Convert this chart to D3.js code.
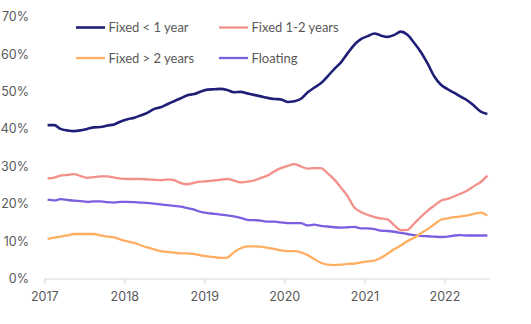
<!DOCTYPE html>
<html>
<head>
<meta charset="utf-8">
<script src="https://cdn.jsdelivr.net/npm/d3@7"></script>
<style>
  html, body { margin: 0; padding: 0; background: #fff; }
  svg { display: block; }
  .tick text { font-family: Inter, "Noto Sans", sans-serif; font-size: 12.5px; fill: #595959; }
  .legend text { font-family: Lato, "Noto Sans", sans-serif; font-size: 13px; fill: #595959; }
</style>
</head>
<body>
<div id="container"></div>
<script>
// chart size
let width = 531;
let height = 324;

// series, monthly Jan 2017 .. Jul 2022 (percent)
let seriesNames = ["Fixed < 1 year", "Fixed 1-2 years", "Fixed > 2 years", "Floating"];
let seriesColors = ["#1f1f78", "#f39089", "#ffae62", "#7b5fe0"];

let fixedUnder1 = [
  41.0, 41.0, 40.0, 39.6, 39.4, 39.6, 40.0, 40.4, 40.5, 40.9, 41.2, 42.0,
  42.6, 43.0, 43.6, 44.3, 45.3, 45.8, 46.6, 47.4, 48.2, 49.0, 49.3, 50.0,
  50.5, 50.6, 50.7, 50.4, 49.8, 49.9, 49.5, 49.1, 48.7, 48.3, 48.0, 47.9,
  47.2, 47.4, 48.0, 49.7, 51.0, 52.2, 54.0, 56.0, 57.8, 60.2, 62.5, 64.0,
  64.8, 65.5, 65.0, 64.6, 65.1, 66.0, 65.2, 63.0, 60.5, 57.5, 54.0, 51.8,
  50.6, 49.6, 48.6, 47.6, 46.2, 44.6, 44.0
];
let fixed1to2 = [
  26.8, 27.0, 27.5, 27.7, 27.9, 27.4, 26.9, 27.1, 27.3, 27.3, 27.0, 26.7,
  26.6, 26.6, 26.6, 26.5, 26.4, 26.3, 26.5, 26.3, 25.5, 25.2, 25.6, 25.9,
  26.0, 26.2, 26.4, 26.6, 26.2, 25.7, 25.9, 26.2, 26.9, 27.5, 28.6, 29.5,
  30.1, 30.6, 30.0, 29.4, 29.5, 29.5, 28.2, 26.5, 24.3, 22.0, 19.0, 17.8,
  17.0, 16.4, 16.1, 15.8, 14.3, 12.9, 13.0, 14.7, 16.5, 18.1, 19.5, 20.8,
  21.3, 22.0, 22.7, 23.5, 24.7, 25.8, 27.5
];
let fixedOver2 = [
  10.6, 10.9, 11.2, 11.5, 11.9, 11.9, 11.9, 11.9, 11.5, 11.2, 11.0, 10.4,
  9.9, 9.5, 8.9, 8.3, 7.8, 7.3, 7.1, 6.9, 6.7, 6.7, 6.5, 6.2,
  5.9, 5.7, 5.5, 5.6, 7.0, 8.1, 8.6, 8.6, 8.5, 8.2, 7.9, 7.5,
  7.3, 7.3, 7.0, 6.3, 5.2, 4.2, 3.7, 3.6, 3.7, 3.9, 4.0, 4.3,
  4.6, 4.8, 5.5, 6.6, 7.8, 8.8, 10.0, 10.9, 12.1, 13.2, 14.5, 15.7,
  16.1, 16.4, 16.6, 16.9, 17.3, 17.6, 16.8
];
let floating = [
  21.1, 20.9, 21.2, 21.0, 20.8, 20.7, 20.5, 20.6, 20.6, 20.4, 20.3, 20.5,
  20.5, 20.4, 20.3, 20.2, 20.0, 19.8, 19.6, 19.4, 19.2, 18.8, 18.4, 17.8,
  17.5, 17.3, 17.1, 16.9, 16.6, 16.2, 15.7, 15.6, 15.5, 15.2, 15.2, 15.0,
  14.8, 14.8, 14.8, 14.2, 14.4, 14.1, 13.9, 13.7, 13.6, 13.7, 13.8, 13.4,
  13.4, 13.2, 12.8, 12.7, 12.5, 12.2, 11.9, 11.6, 11.4, 11.3, 11.2, 11.1,
  11.2, 11.5, 11.6, 11.5, 11.5, 11.5, 11.5
];

let yearTicks = [2017, 2018, 2019, 2020, 2021, 2022];
let percentTicks = [0, 10, 20, 30, 40, 50, 60, 70];

// month dates (mid-month) for each point
let months = fixedUnder1.map(function(d, i) { return new Date(2017, i, 16); });

function drawChart() {
    let svg = d3.select('#container')
        .append('svg')
        .attr('width', width)
        .attr('height', height);

    let x = d3.scaleTime()
        .domain([new Date(2017, 0, 1), new Date(2022, 6, 28)])
        .range([44.3, 490]);

    let y = d3.scaleLinear()
        .domain([0, 70])
        .range([278.5, 16.7]);

    // x axis
    let xAxis = d3.axisBottom(x)
        .tickValues(yearTicks.map(function(yr) { return new Date(yr, 0, 1); }))
        .tickFormat(d3.timeFormat('%Y'))
        .tickSizeInner(5)
        .tickSizeOuter(0)
        .tickPadding(9);
    let gx = svg.append('g')
        .attr('transform', 'translate(0,278.5)')
        .call(xAxis);
    gx.select('.domain').attr('stroke', '#d9d9d9').attr('stroke-width', 1.2);
    gx.selectAll('.tick line').attr('stroke', '#d9d9d9').attr('stroke-width', 1.2);

    // y axis (labels only)
    let yAxis = d3.axisLeft(y)
        .tickValues(percentTicks)
        .tickFormat(function(d) { return d + '%'; })
        .tickSize(0)
        .tickPadding(0);
    let gy = svg.append('g')
        .attr('transform', 'translate(29,0)')
        .call(yAxis);
    gy.select('.domain').remove();

    // lines
    let allSeries = [fixedUnder1, fixedOver2, floating, fixed1to2];
    let drawOrder = [3, 2, 1, 0];
    let seriesByName = [fixedUnder1, fixed1to2, fixedOver2, floating];
    let line = d3.line()
        .x(function(d, i) { return x(months[i]); })
        .y(function(d) { return y(d); })
        .curve(d3.curveMonotoneX);

    svg.append('g')
        .selectAll('path')
        .data(drawOrder)
        .enter()
        .append('path')
        .attr('fill', 'none')
        .attr('stroke', function(k) { return seriesColors[k]; })
        .attr('stroke-width', function(k) { return k === 0 ? 2.6 : 2.3; })
        .attr('stroke-linejoin', 'round')
        .attr('d', function(k) { return line(seriesByName[k]); });

    // legend, 2 columns x 2 rows
    let legendX0 = 76, legendColW = 143, legendY0 = 27.5, legendRowH = 30.5, swatchW = 29;
    let legend = svg.append('g').attr('class', 'legend');
    let items = legend.selectAll('g')
        .data(seriesNames)
        .enter()
        .append('g')
        .attr('transform', function(d, i) {
            return 'translate(' + (legendX0 + (i % 2) * legendColW) + ',' + (legendY0 + Math.floor(i / 2) * legendRowH) + ')';
        });
    items.append('line')
        .attr('x1', 0).attr('x2', swatchW)
        .attr('y1', 0).attr('y2', 0)
        .attr('stroke', function(d, i) { return seriesColors[i]; })
        .attr('stroke-width', function(d, i) { return i === 0 ? 2.6 : 2.3; });
    items.append('text')
        .attr('x', swatchW + 3.5)
        .attr('y', 0)
        .attr('dy', '0.35em')
        .text(function(d) { return d; });
}

document.addEventListener("DOMContentLoaded", drawChart);
</script>
</body>
</html>
